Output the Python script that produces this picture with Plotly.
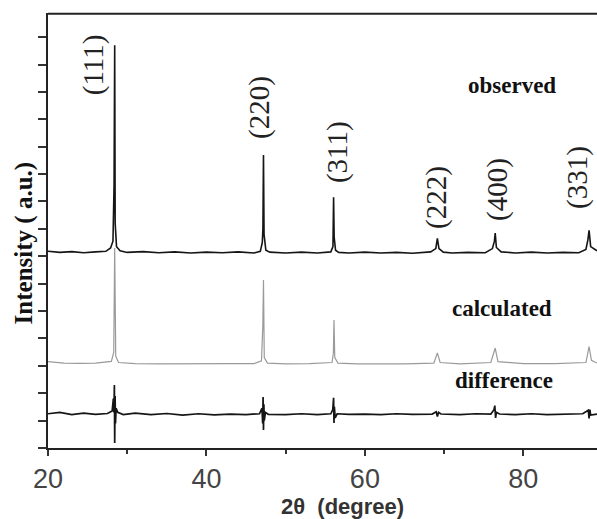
import plotly.graph_objects as go

# ---- data ----
obs_x = [20.0, 21.5, 23.0, 24.5, 26.0, 27.3, 27.9, 28.2, 28.34, 28.42, 28.48, 28.65, 29.1, 30.0, 32.0, 34.0,
         36.0, 38.0, 40.0, 42.0, 44.0, 46.0, 46.8, 47.05, 47.13, 47.2, 47.27, 47.5, 48.0, 50.0, 52.0, 54.0,
         55.7, 55.97, 56.05, 56.12, 56.3, 56.7, 58.0, 60.0, 62.0, 64.0, 66.0, 68.3, 68.95, 69.15, 69.35, 69.9,
         71.0, 73.0, 75.2, 76.1, 76.35, 76.45, 76.6, 77.2, 79.0, 81.0, 83.0, 85.0, 87.0, 87.9, 88.15, 88.3,
         88.5, 89.3]
obs_y = [7.18, 7.14, 7.17, 7.13, 7.16, 7.18, 7.3, 7.55, 9.6, 14.7, 8.2, 7.35, 7.2, 7.14, 7.17, 7.13,
         7.16, 7.12, 7.15, 7.13, 7.16, 7.12, 7.18, 7.5, 8.0, 10.7, 7.8, 7.22, 7.15, 7.12, 7.15, 7.12,
         7.16, 7.35, 9.15, 7.7, 7.22, 7.14, 7.12, 7.15, 7.12, 7.14, 7.11, 7.16, 7.28, 7.65, 7.28, 7.15,
         7.12, 7.14, 7.13, 7.28, 7.55, 7.85, 7.32, 7.16, 7.12, 7.15, 7.12, 7.14, 7.13, 7.25, 7.6, 7.95,
         7.35, 7.2]

calc_x = [20.0, 22.0, 24.0, 26.0, 28.0, 28.3, 28.42, 28.55, 28.9, 31.0, 34.0, 37.0, 40.0, 43.0, 46.0,
          46.95, 47.12, 47.2, 47.3, 47.7, 50.0, 53.0, 55.85, 56.02, 56.1, 56.2, 56.6, 59.0, 62.0, 65.0,
          68.7, 69.15, 69.5, 72.0, 75.9, 76.45, 76.8, 80.0, 84.0, 87.9, 88.3, 88.6, 89.3]
calc_y = [3.15, 3.1, 3.09, 3.1, 3.16, 3.5, 7.3, 3.35, 3.12, 3.08, 3.07, 3.08, 3.07, 3.08, 3.08,
          3.18, 4.5, 6.13, 3.3, 3.1, 3.07, 3.08, 3.12, 3.45, 4.67, 3.3, 3.1, 3.07, 3.07, 3.07,
          3.1, 3.47, 3.12, 3.07, 3.12, 3.65, 3.15, 3.08, 3.08, 3.12, 3.7, 3.2, 3.1]

diff_x = [20, 21.5, 23, 24.5, 26, 27.5, 28.1, 28.25, 28.32, 28.38, 28.42, 28.47, 28.52, 28.6, 28.8, 29.5,
          31, 33, 35, 37, 39, 41, 43, 45, 46.7, 47.0, 47.1, 47.15, 47.2, 47.25, 47.3, 47.45, 47.8,
          50, 52, 54, 55.7, 55.95, 56.05, 56.1, 56.15, 56.25, 56.5, 58, 60, 62, 64, 66, 68.5, 69.0,
          69.15, 69.3, 69.6, 72, 74, 75.9, 76.3, 76.4, 76.5, 76.6, 77, 79, 81, 83, 85, 87.5, 88.2,
          88.3, 88.4, 88.5, 89.3]
diff_y = [1.25, 1.3, 1.22, 1.27, 1.23, 1.26, 1.35, 1.8, 1.3, 2.3, 0.18, 1.9, 0.9, 1.45, 1.3, 1.22,
          1.27, 1.22, 1.26, 1.2, 1.25, 1.21, 1.24, 1.22, 1.25, 1.45, 0.9, 1.86, 0.66, 1.6, 1.0, 1.3, 1.23,
          1.22, 1.25, 1.22, 1.25, 1.4, 1.83, 0.91, 1.5, 1.1, 1.25, 1.23, 1.24, 1.22, 1.25, 1.23, 1.24, 1.32,
          1.15, 1.3, 1.24, 1.22, 1.25, 1.24, 1.4, 1.55, 1.1, 1.3, 1.24, 1.22, 1.25, 1.22, 1.24, 1.25, 1.38,
          1.08, 1.4, 1.2, 1.24]

hkl_labels = ["(111)", "(220)", "(311)", "(222)", "(400)", "(331)"]
hkl_x = [25.7, 46.75, 56.47, 68.96, 76.66, 86.75]
hkl_y = [13.98, 12.45, 10.8, 9.16, 9.45, 9.89]

curve_names = ["observed", "calculated", "difference"]
curve_label_x = [78.6, 77.3, 77.5]
curve_label_y = [13.25, 5.1, 2.45]

x_ticks = [20, 40, 60, 80]

fig = go.Figure()
fig.add_trace(go.Scatter(x=calc_x, y=calc_y, mode="lines",
                         line=dict(color="#9a9a9a", width=1.2), showlegend=False))
fig.add_trace(go.Scatter(x=obs_x, y=obs_y, mode="lines",
                         line=dict(color="#151515", width=1.6), showlegend=False))
fig.add_trace(go.Scatter(x=diff_x, y=diff_y, mode="lines",
                         line=dict(color="#151515", width=1.7), showlegend=False))

for lab, lx, ly in zip(hkl_labels, hkl_x, hkl_y):
    fig.add_annotation(x=lx, y=ly, text=lab, textangle=-90, showarrow=False,
                       xanchor="center", yanchor="middle",
                       font=dict(family="Liberation Serif", size=29, color="#222"))

for lab, lx, ly in zip(curve_names, curve_label_x, curve_label_y):
    fig.add_annotation(x=lx, y=ly, text="<b>" + lab + "</b>", showarrow=False,
                       xanchor="center", yanchor="middle",
                       font=dict(family="Liberation Serif", size=23, color="#111"))

fig.add_annotation(xref="paper", yref="paper", x=(342 - 48) / 549, y=-0.135,
                   text="<b>2θ&nbsp; (degree)</b>", showarrow=False,
                   xanchor="center", yanchor="middle",
                   font=dict(family="Liberation Sans", size=22, color="#333"))
fig.add_annotation(xref="paper", yref="paper", x=-0.043, y=(448 - 243) / 435,
                   text="<b>Intensity ( a.u.)</b>", textangle=-90, showarrow=False,
                   xanchor="center", yanchor="middle",
                   font=dict(family="Liberation Serif", size=25, color="#111"))

# top frame line
fig.add_shape(type="line", xref="paper", yref="paper", x0=0, x1=1, y0=0.998, y1=0.998,
              layer="above", line=dict(color="#222", width=2))

fig.update_layout(
    width=597, height=519,
    margin=dict(l=48, r=0, t=13, b=71),
    plot_bgcolor="white", paper_bgcolor="white",
    xaxis=dict(range=[20, 89.3], tickvals=x_ticks, ticks="outside", ticklen=6, tickwidth=1.5,
               tickcolor="#333", showline=True, linecolor="#222", linewidth=2,
               showgrid=False, zeroline=False,
               tickfont=dict(family="Liberation Sans", size=27, color="#444"),
               minor=dict(tickvals=[30, 50, 70], ticks="outside", ticklen=4, tickcolor="#333")),
    yaxis=dict(range=[0, 15.88], dtick=1, tick0=0, ticks="outside", ticklen=8, tickwidth=1.5,
               tickcolor="#333", showline=True, linecolor="#222", linewidth=2,
               showgrid=False, zeroline=False, showticklabels=False),
)

fig.write_html("out.html")
